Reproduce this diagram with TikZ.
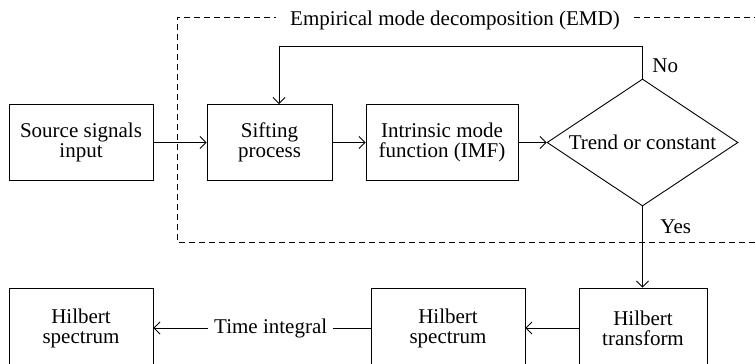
\documentclass[tikz,border=0pt]{standalone}
\usepackage{fontspec}
\setmainfont{Liberation Serif}
\usetikzlibrary{arrows.meta,shapes.geometric}
\begin{document}
\begin{tikzpicture}[x=1pt,y=-1pt,->,>={Straight Barb[length=6pt,width=12pt]},line width=0.9pt,font=\fontsize{21}{20}\selectfont]
\tikzset{Box/.style = {draw,align=center,inner sep=0pt,minimum height=76pt}}
\tikzset{Test/.style = {draw,diamond,inner sep=0pt,aspect=1.5,minimum width=191pt,minimum height=127pt}}
\useasboundingbox (0,0) rectangle (755,364);
\draw[-,dash pattern=on 6pt off 4pt] (760,17) -- (177,17) -- (177,242) -- (760,242);
\node[fill=white,inner xsep=14pt](E) at (455,20) {Empirical mode decomposition (EMD)};
\node[Box,minimum width=144pt](S) at (81,142.5) {Source signals\\input};
\node[Box,minimum width=125pt](F) at (269.5,142.5) {Sifting\\process};
\node[Box,minimum width=152pt](I) at (442,142.5) {Intrinsic mode\\function (IMF)};
\node[Test](T) at (642.5,142.5) {Trend or constant};
\node[Box,minimum width=128pt,minimum height=80pt](H) at (643,328) {Hilbert\\transform};
\node[Box,minimum width=154pt,minimum height=80pt](M) at (448,328) {Hilbert\\spectrum};
\node[Box,minimum width=144pt,minimum height=80pt](L) at (81,328) {Hilbert\\spectrum};
\node[anchor=base west,inner sep=0pt](N) at (652,72) {No};
\node[anchor=base west,inner sep=0pt](Y) at (660,233) {Yes};
\draw[->] (S) -> (F);
\draw[->] (F) -> (I);
\draw[->] (I) -> (T);
\draw[->] (T.north) -- ++(0,-32) -| ([xshift=9.5pt]F.north);
\draw[->] (T.south) -- (T.south |- H.north);
\draw[->] (H) -> (M);
\draw[->] (M) -- node[fill=white,inner xsep=6pt,pos=.46] {Time integral} (L);
\end{tikzpicture}
\end{document}
